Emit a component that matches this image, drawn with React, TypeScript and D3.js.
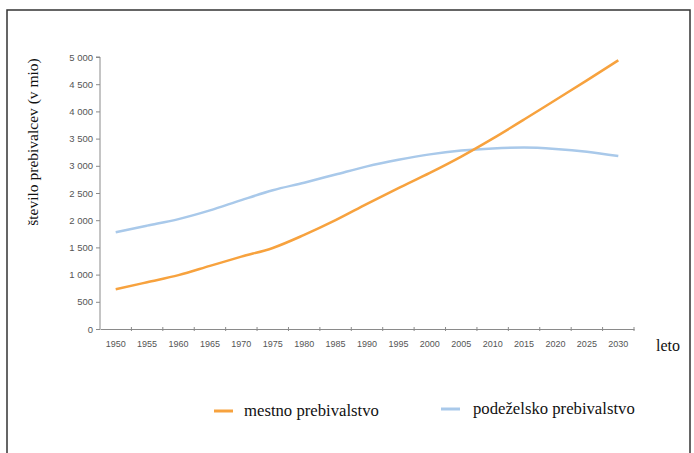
import React, { useRef, useEffect } from 'react';
import * as d3 from 'd3';

// leta (kategorije)
const years = ['1950','1955','1960','1965','1970','1975','1980','1985','1990','1995','2000','2005','2010','2015','2020','2025','2030'];
// mestno prebivalstvo (v mio)
const urban = [730, 860, 990, 1160, 1330, 1490, 1730, 2000, 2300, 2590, 2870, 3170, 3500, 3850, 4210, 4570, 4940];
// podeželsko prebivalstvo (v mio)
const rural = [1780, 1900, 2020, 2180, 2370, 2550, 2690, 2840, 2990, 3110, 3210, 3280, 3320, 3335, 3310, 3260, 3180];
const yTicks = [0, 500, 1000, 1500, 2000, 2500, 3000, 3500, 4000, 4500, 5000];

const W = 694, H = 453;
const SERIF = "'Liberation Serif', 'DejaVu Serif', 'Times New Roman', serif";
const SANS = "'Liberation Sans', Arial, sans-serif";

const App = () => {
  const svgRef = useRef<SVGSVGElement>(null);

  useEffect(() => {
    const svg = d3.select(svgRef.current);
    svg.selectAll('*').remove();

    // okvir
    svg.append('rect')
      .attr('x', 7).attr('y', 10).attr('width', 683).attr('height', 470)
      .attr('fill', 'white').attr('stroke', '#333').attr('stroke-width', 1.5);

    const x = d3.scaleBand().domain(years).range([100, 634]);
    const y = d3.scaleLinear().domain([0, 5000]).range([329, 57]);

    const loc = d3.formatLocale({ decimal: ',', thousands: ' ', grouping: [3], currency: ['', ''] });
    const fmt = loc.format(',');

    // y os
    const yAxis = d3.axisLeft(y).tickValues(yTicks).tickSize(4).tickFormat((d) => fmt(d as number));
    const gy = svg.append('g').attr('transform', 'translate(100,0)').call(yAxis);
    gy.selectAll('path, line').attr('stroke', '#8a8a8a');
    gy.select('.domain').attr('d', `M-4,${y(5000)}H0V${y(0)}`);
    gy.selectAll('text').attr('fill', '#555').attr('font-family', SANS).style('font-family', SANS)
      .style('font-size', '9.5px').attr('x', -7);

    // x os
    const gx = svg.append('g').attr('transform', `translate(0,${y(0)})`)
      .call(d3.axisBottom(x).tickSize(0).tickPadding(12));
    gx.select('.domain').attr('stroke', '#8a8a8a');
    gx.selectAll('text').attr('fill', '#555').attr('font-family', SANS).style('font-family', SANS)
      .style('font-size', '9px');
    gx.selectAll('.bound').data(years.slice(1).concat(['end']))
      .join('line')
      .attr('x1', (_d, i) => x.range()[0] + x.step() * (i + 1))
      .attr('x2', (_d, i) => x.range()[0] + x.step() * (i + 1))
      .attr('y1', -2).attr('y2', 2).attr('stroke', '#8a8a8a');

    const line = (vals: number[]) => d3.line<number>()
      .x((_d, i) => (x(years[i]) as number) + x.bandwidth() / 2)
      .y((d) => y(d))
      .curve(d3.curveMonotoneX)(vals);

    svg.append('path').attr('d', line(rural)).attr('fill', 'none')
      .attr('stroke', '#a9c9ea').attr('stroke-width', 2.5);
    svg.append('path').attr('d', line(urban)).attr('fill', 'none')
      .attr('stroke', '#f7a23e').attr('stroke-width', 2.5);

    // naslovi osi
    svg.append('text').attr('transform', 'translate(38,142) rotate(-90)')
      .attr('text-anchor', 'middle').attr('font-family', SERIF).style('font-family', SERIF)
      .style('font-size', '15.5px').attr('fill', '#111').text('število prebivalcev (v mio)');
    svg.append('text').attr('x', 656).attr('y', 351)
      .attr('font-family', SERIF).style('font-family', SERIF)
      .style('font-size', '16px').attr('fill', '#111').text('leto');

    // legenda
    const legend = [
      { name: 'mestno prebivalstvo', color: '#f7a23e', x: 214, y: 411, dx: 30 },
      { name: 'podeželsko prebivalstvo', color: '#a9c9ea', x: 441, y: 409, dx: 32 },
    ];
    const lg = svg.append('g').selectAll('g').data(legend).join('g')
      .attr('transform', (d) => `translate(${d.x},${d.y})`);
    lg.append('line').attr('x1', 0).attr('x2', 19).attr('y1', 0).attr('y2', 0)
      .attr('stroke', (d) => d.color).attr('stroke-width', 3);
    lg.append('text').attr('x', (d) => d.dx).attr('y', 5)
      .attr('font-family', SERIF).style('font-family', SERIF)
      .style('font-size', '16.7px').attr('fill', '#111').text((d) => d.name);
  }, []);

  return (
    <svg ref={svgRef} width={W} height={H}
      style={{ position: 'absolute', left: 0, top: 0, background: 'white' }} />
  );
};

export default App;
